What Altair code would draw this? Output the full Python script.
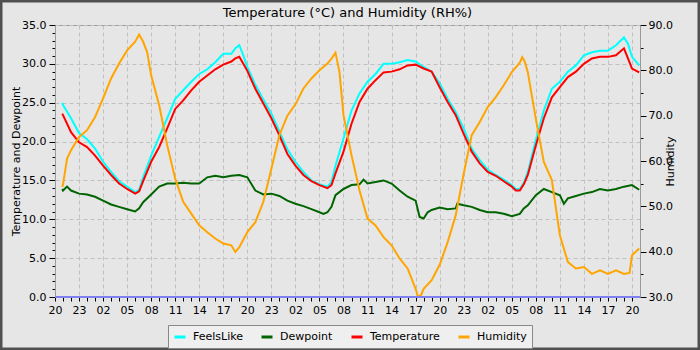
import altair as alt
import pandas as pd

# Readings, timed in hours after 20:00 on the first evening.
temp_hours = [0.9, 1, 2, 3, 4, 5, 6, 7, 8, 9, 10, 10.5, 11, 12, 13, 14, 15, 16, 17, 18, 19, 20, 21, 22, 22.5, 23, 23.5,
              24, 25, 26, 27, 28, 29, 30, 31, 32, 33, 34, 34.5, 35, 36, 37, 38, 39, 40, 41, 42, 43, 44, 45, 46, 47,
              48, 49, 50, 51, 52, 53, 54, 55, 56, 57, 57.5, 58, 58.5, 59, 60, 61, 62, 63, 64, 65, 66, 67, 68, 69, 70,
              71, 71.5, 72, 72.9]
temp_values = [23.6, 23.4, 21.2, 19.9, 19.3, 18.2, 16.9, 15.7, 14.6, 13.9, 13.3, 13.6, 14.9, 17.4, 19.3, 21.7, 24.2,
               25.3, 26.6, 27.7, 28.5, 29.3, 29.9, 30.3, 30.7, 30.9, 30.0, 29.1, 26.8, 24.9, 23.0, 20.8, 18.4, 16.9,
               15.7, 14.9, 14.4, 14.0, 14.4, 15.9, 18.7, 22.3, 25.1, 26.8, 27.9, 28.9, 29.0, 29.3, 29.8, 29.9, 29.4,
               29.0, 27.0, 25.1, 23.4, 21.0, 18.7, 17.2, 16.1, 15.6, 14.9, 14.2, 13.7, 13.7, 14.5, 15.7, 19.5, 23.0,
               25.7, 27.0, 28.3, 29.0, 30.0, 30.7, 30.9, 30.9, 31.1, 32.0, 30.7, 29.4, 28.9]

feels_hours = temp_hours
feels_values = [25.0, 24.7, 23.0, 21.1, 20.3, 19.1, 17.4, 16.1, 14.9, 14.2, 13.5, 13.8, 15.4, 18.2, 20.6, 23.0, 25.5,
                26.6, 27.7, 28.7, 29.3, 30.2, 31.3, 31.3, 32.0, 32.4, 31.1, 29.6, 27.3, 25.4, 23.6, 21.3, 19.0, 17.4,
                16.1, 15.0, 14.5, 14.2, 14.8, 16.9, 20.4, 24.0, 26.2, 27.7, 28.7, 30.0, 30.0, 30.2, 30.5, 30.3, 29.6,
                29.0, 27.5, 25.5, 23.8, 21.7, 19.1, 17.6, 16.4, 15.7, 15.1, 14.4, 13.9, 13.9, 14.7, 16.1, 20.2, 24.0,
                26.8, 27.7, 29.0, 29.8, 31.1, 31.5, 31.7, 31.7, 32.4, 33.4, 32.6, 30.9, 29.8]

dew_hours = [0.9, 1, 1.5, 2, 3, 4, 5, 6, 7, 8, 9, 10, 10.5, 11, 12, 13, 14, 15, 16, 17, 18, 19, 20, 21, 22, 23, 24,
             25, 26, 27, 28, 29, 30, 31, 32, 33, 33.5, 34, 34.5, 35, 36, 37, 38, 38.5, 39, 40, 41, 42, 43, 44, 45,
             45.5, 46, 46.5, 47, 48, 49, 50, 50.2, 51, 52, 53, 54, 55, 56, 57, 58, 58.5, 59, 60, 61, 62, 63, 63.5,
             64, 65, 66, 67, 68, 69, 70, 71, 72, 72.9]
dew_values = [13.9, 13.7, 14.2, 13.7, 13.3, 13.2, 12.9, 12.4, 11.9, 11.6, 11.3, 11.0, 11.4, 12.2, 13.2, 14.2, 14.6,
              14.6, 14.7, 14.6, 14.6, 15.4, 15.6, 15.4, 15.6, 15.7, 15.4, 13.7, 13.2, 13.3, 13.0, 12.4, 12.0, 11.7,
              11.3, 10.9, 10.7, 10.9, 11.6, 13.1, 13.9, 14.4, 14.5, 15.1, 14.6, 14.8, 15.0, 14.6, 13.7, 12.9, 12.4,
              10.3, 10.1, 10.9, 11.2, 11.5, 11.3, 11.4, 12.0, 11.8, 11.6, 11.2, 10.9, 10.9, 10.7, 10.4, 10.7, 11.4,
              11.8, 13.1, 13.9, 13.5, 13.1, 12.0, 12.7, 13.0, 13.3, 13.5, 13.9, 13.7, 13.9, 14.2, 14.4, 13.8]

hum_hours = [0.9, 1, 1.5, 2, 3, 4, 5, 6, 7, 8, 9, 10, 10.5, 11, 11.5, 12, 13, 14, 15, 16, 17, 18, 19, 20, 21, 22,
             22.5, 23, 24, 25, 26, 27, 28, 29, 30, 31, 32, 33, 34, 34.5, 35, 35.5, 36, 37, 38, 39, 40, 41, 42, 43,
             44, 45, 45.3, 45.7, 46, 47, 48, 49, 50, 51, 52, 53, 54, 55, 56, 57, 58, 58.3, 58.6, 59, 60, 61, 62,
             63, 64, 65, 66, 67, 68, 69, 70, 71, 71.7, 72, 72.9]
hum_values = [54.3, 54.8, 60.5, 62.4, 65.3, 66.8, 69.7, 73.8, 78.2, 81.5, 84.4, 86.3, 87.9, 86.3, 84.0, 78.9, 72.3,
              63.5, 56.1, 51.0, 48.4, 45.8, 44.3, 42.9, 41.8, 41.4, 39.9, 41.0, 44.3, 46.5, 51.0, 58.3, 65.7, 70.0,
              72.5, 76.0, 78.2, 80.0, 81.5, 82.6, 83.9, 79.6, 70.1, 61.3, 53.5, 47.3, 45.8, 43.2, 41.4, 38.5, 36.3,
              31.8, 30.0, 30.5, 31.8, 33.7, 37.1, 42.1, 48.0, 57.2, 65.7, 68.6, 71.9, 74.1, 76.7, 79.6, 81.7, 82.9,
              82.0, 79.6, 69.3, 59.8, 55.8, 43.6, 37.7, 36.3, 36.6, 35.1, 35.9, 35.1, 35.9, 35.1, 35.3, 39.2, 40.7]

series_names = ["FeelsLike", "Dewpoint", "Temperature", "Humidity"]
series_colors = ["#00ffff", "#006400", "#ff0000", "#ffa500"]

FONT = "DejaVu Sans"


def series(name, hours, values):
    return pd.DataFrame({"hour": hours, "value": values, "series": name})


temp_df = pd.concat([
    series("FeelsLike", feels_hours, feels_values),
    series("Dewpoint", dew_hours, dew_values),
    series("Temperature", temp_hours, temp_values),
], ignore_index=True)
hum_df = series("Humidity", hum_hours, hum_values)

hour_label = ("datum.value % 3 === 0 ? "
              "((datum.value + 20) % 24 < 10 ? '0' : '') + ((datum.value + 20) % 24) : ''")

x_enc = alt.X(
    "hour:Q",
    scale=alt.Scale(domain=[0, 73], nice=False, zero=False),
    axis=alt.Axis(
        values=list(range(0, 73)),
        labelExpr=hour_label,
        labelOverlap=False,
        labelFlush=False,
        tickSize=4,
        labelPadding=3,
        gridOpacity={"condition": {"test": "datum.value % 3 === 0", "value": 1}, "value": 0},
        title=None,
    ),
)

color_scale = alt.Scale(domain=series_names, range=series_colors)

color_enc = alt.Color(
    "series:N",
    scale=color_scale,
    legend=alt.Legend(
        title=None, orient="none", legendX=113, legendY=300, direction="horizontal", columns=4,
        symbolType="stroke", symbolSize=121, symbolStrokeWidth=3,
        labelFont=FONT, labelFontSize=11, labelColor="#000000", labelOffset=6,
        columnPadding=12, padding=5, fillColor="#efefef", strokeColor="#888888",
    ),
)

temp_lines = alt.Chart(temp_df).mark_line(strokeWidth=2).encode(
    x=x_enc,
    y=alt.Y(
        "value:Q",
        scale=alt.Scale(domain=[0, 35], nice=False),
        axis=alt.Axis(
            values=list(range(0, 36)),
            labelExpr="datum.value % 5 === 0 ? format(datum.value, '.1f') : ''",
            labelOverlap=False,
            labelFlush=False,
            tickSize={"condition": {"test": "datum.value % 5 === 0", "value": 6}, "value": 3},
            gridOpacity={"condition": {"test": "datum.value % 5 === 0", "value": 1}, "value": 0},
            labelPadding=3,
            title="Temperature and Dewpoint",
            titlePadding=0,
        ),
    ),
    color=color_enc,
    detail="series:N",
)

hum_line = alt.Chart(hum_df).mark_line(strokeWidth=2).encode(
    x=x_enc,
    y=alt.Y(
        "value:Q",
        scale=alt.Scale(domain=[30, 90], nice=False, zero=False),
        axis=alt.Axis(
            orient="right",
            values=list(range(30, 91, 5)),
            labelExpr="datum.value % 10 === 0 ? format(datum.value, '.1f') : ''",
            labelOverlap=False,
            labelFlush=False,
            tickSize={"condition": {"test": "datum.value % 10 === 0", "value": 6}, "value": 3},
            grid=False,
            labelPadding=2,
            title="Humidity",
            titleAngle=270,
            titlePadding=3,
        ),
    ),
    color=alt.Color("series:N", scale=color_scale, legend=None),
)

zero_line = alt.Chart(pd.DataFrame({"level": [0]})).mark_rule(color="#7f7fef", strokeWidth=2).encode(
    y=alt.Y("level:Q", scale=alt.Scale(domain=[0, 35], nice=False), axis=None)
)

# outer border of the whole figure
frame = alt.Chart(pd.DataFrame({"k": [0]})).mark_rect(
    filled=False, stroke="#505050", strokeWidth=5, clip=False
).encode(
    x=alt.value(-55), x2=alt.value(645), y=alt.value(-25), y2=alt.value(325)
)

chart = alt.layer(temp_lines, hum_line, zero_line, frame).resolve_scale(
    y="independent"
).properties(
    width=585,
    height=272,
    autosize=alt.AutoSizeParams(type="none"),
    padding={"left": 55, "top": 25, "right": 60, "bottom": 53},
    title=alt.Title(
        "Temperature (°C) and Humidity (RH%)",
        font=FONT, fontSize=13, fontWeight="normal", color="#000000", anchor="middle",
        frame="group", offset=-28, baseline="middle",
    ),
).configure(
    background="#e6e6e6",
).configure_view(
    stroke="#999999", strokeWidth=1, fill="#e6e6e6",
).configure_axis(
    labelFont=FONT, labelFontSize=11, labelColor="#000000",
    titleFont=FONT, titleFontSize=11, titleFontWeight="normal", titleColor="#000000",
    tickColor="#000000", domainColor="#999999",
    gridColor="#c0c0c0", gridDash=[4, 3], gridWidth=1,
)

chart.save("out.html", embed_options={"renderer": "svg", "actions": False})
